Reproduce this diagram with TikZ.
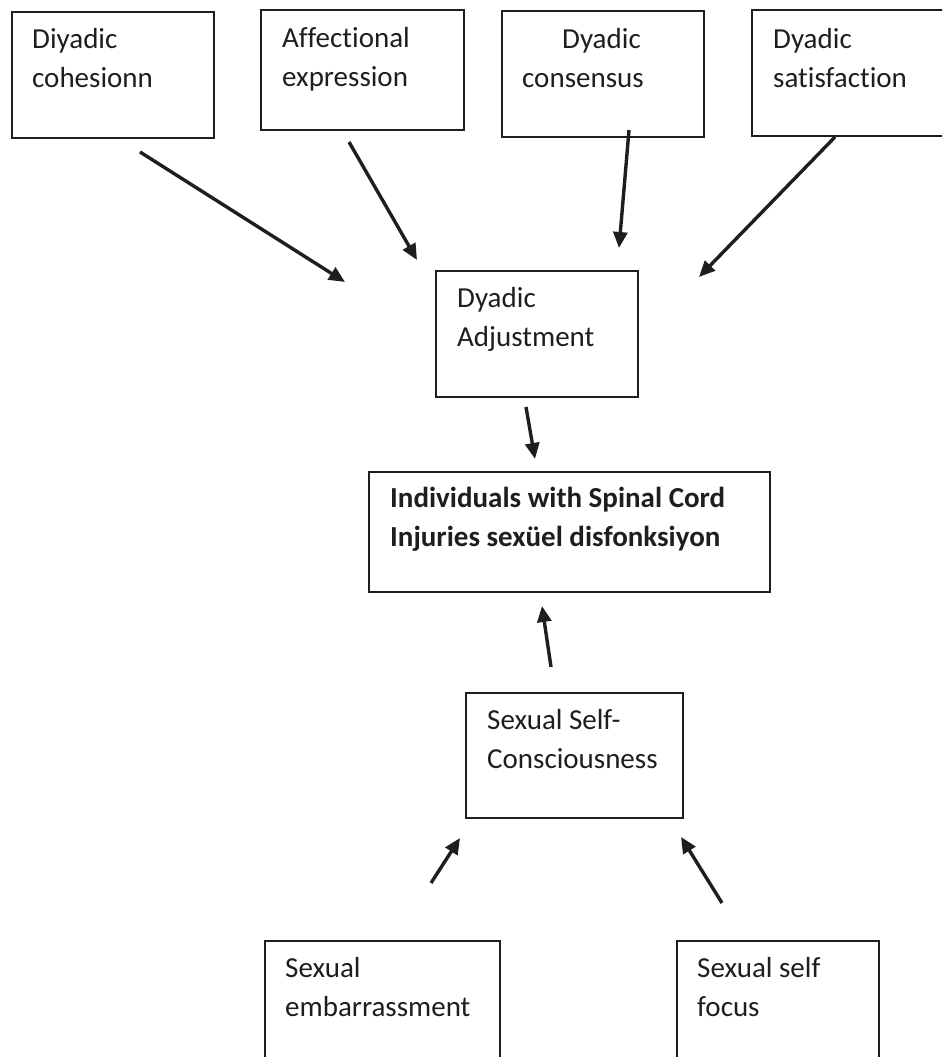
\documentclass[tikz,border=0pt]{standalone}
\usepackage{fontspec}
\setmainfont{Carlito}[Ligatures=NoCommon]
\usetikzlibrary{arrows.meta}
\definecolor{ink}{HTML}{1E1E1E}
\tikzset{
  boxnode/.style={draw=ink, line width=1.8pt, inner sep=0pt, anchor=north west},
  txt/.style={anchor=base west, align=left, inner sep=0pt, text=ink,
    font=\fontsize{29}{39}\selectfont},
  arr/.style={draw=ink, line width=3.4pt, -{Triangle[length=16pt,width=14pt]}}
}
\begin{document}
\begin{tikzpicture}[x=1pt,y=1pt]
\useasboundingbox (0,0) rectangle (942,1057);
\clip (0,0) rectangle (942,1057);
% boxes
\node[boxnode, minimum width=202pt, minimum height=126pt] (b1) at (11,1046) {};
\node[boxnode, minimum width=203pt, minimum height=120pt] (b2) at (260,1048) {};
\node[boxnode, minimum width=202pt, minimum height=126pt] (b3) at (501,1047) {};
\node[boxnode, minimum width=250pt, minimum height=126pt] (b4) at (751,1048) {};
\node[boxnode, minimum width=202pt, minimum height=126pt] (da) at (435,787) {};
\node[boxnode, minimum width=401pt, minimum height=120pt] (ind) at (368,586) {};
\node[boxnode, minimum width=217pt, minimum height=125pt] (ssc) at (465,365) {};
\node[boxnode, minimum width=235pt, minimum height=160pt] (emb) at (264,117) {};
\node[boxnode, minimum width=202pt, minimum height=160pt] (foc) at (676,117) {};
% texts (base anchor = baseline of the last line)
\node[txt] (t1) at (32,969) {Diyadic\\cohesionn};
\node[txt] (t2) at (282,970) {Affectional\\expression};
\node[txt] (t3) at (522,969) {\hspace*{40pt}Dyadic\\consensus};
\node[txt] (t4) at (773,969) {Dyadic\\satisfaction};
\node[txt] (tda) at (457,710) {Dyadic\\Adjustment};
\node[txt, font=\fontsize{29}{39}\selectfont\bfseries] (tind) at (390,510) {Individuals with Spinal Cord\\Injuries sexüel disfonksiyon};
\node[txt] (tssc) at (487,288) {Sexual Self-\\Consciousness};
\node[txt] (temb) at (285,40) {Sexual\\embarrassment};
\node[txt] (tfoc) at (697,40) {Sexual self\\focus};
% arrow end points
\coordinate (s1) at (140,905); \coordinate (e1) at (345,775);
\coordinate (s2) at (349,915); \coordinate (e2) at (417,797);
\coordinate (s3) at (629,927); \coordinate (e3) at (619,809);
\coordinate (s4) at (835,920); \coordinate (e4) at (699,780);
\coordinate (s5) at (526,650); \coordinate (e5) at (535,598);
\coordinate (s6) at (551,390); \coordinate (e6) at (542,451);
\coordinate (s7) at (431,174); \coordinate (e7) at (460,219);
\coordinate (s8) at (722,154); \coordinate (e8) at (681,220);
\draw[arr] (s1) -- (e1);
\draw[arr] (s2) -- (e2);
\draw[arr] (s3) -- (e3);
\draw[arr] (s4) -- (e4);
\draw[arr] (s5) -- (e5);
\draw[arr] (s6) -- (e6);
\draw[arr] (s7) -- (e7);
\draw[arr] (s8) -- (e8);
\end{tikzpicture}
\end{document}
